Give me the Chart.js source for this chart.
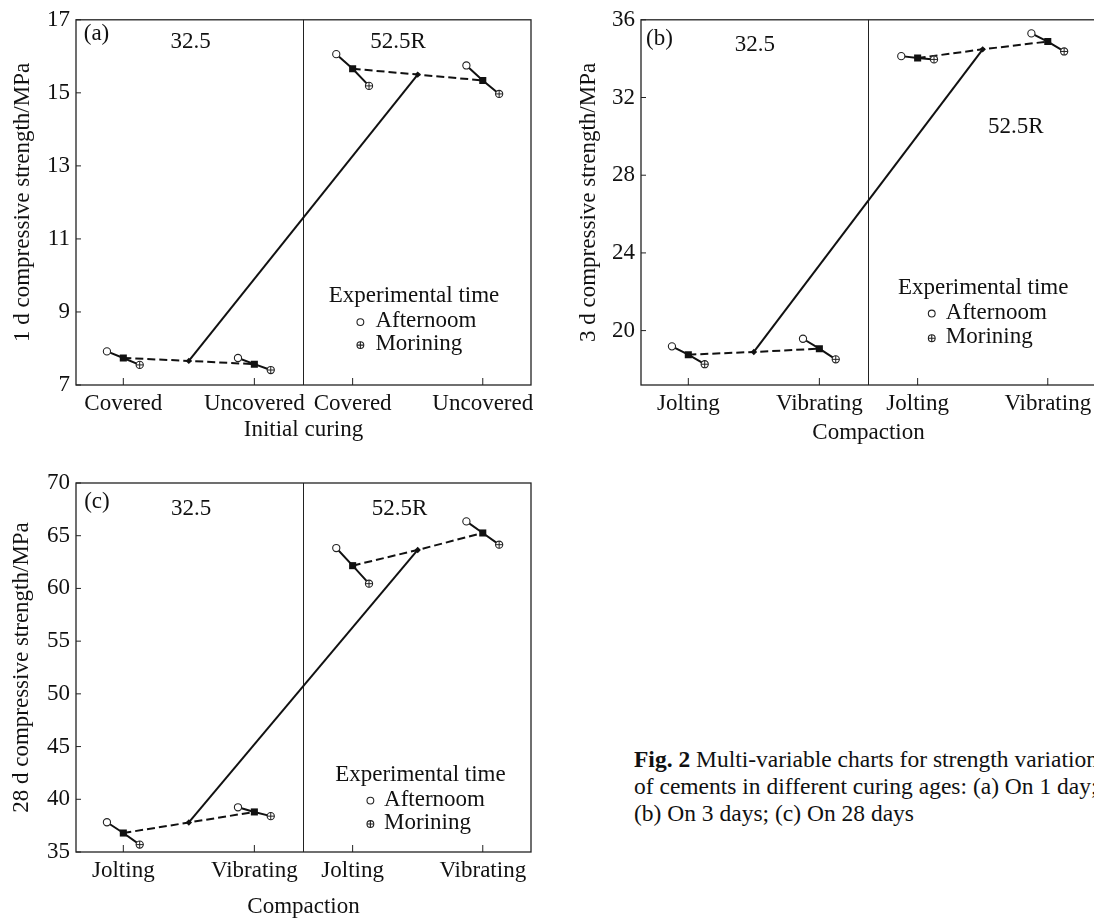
<!DOCTYPE html>
<html>
<head>
<meta charset="utf-8">
<script src="https://cdn.jsdelivr.net/npm/chart.js@4.4.1/dist/chart.umd.min.js"></script>
<style>
  html, body { margin: 0; padding: 0; background: #fff; overflow: hidden; }
  body { width: 1094px; height: 920px; position: relative; }
  canvas { position: absolute; }
  #caption {
    position: absolute; left: 634px; top: 746px;
    font: 23.5px "Liberation Serif", serif; line-height: 27px;
    white-space: nowrap; color: #111;
  }
</style>
</head>
<body>
<canvas id="chartA" width="560" height="450" style="left:0;top:0"></canvas>
<canvas id="chartB" width="560" height="450" style="left:560px;top:0"></canvas>
<canvas id="chartC" width="560" height="470" style="left:0;top:450px"></canvas>
<div id="caption"><b>Fig. 2</b> Multi-variable charts for strength variations<br>of cements in different curing ages: (a) On 1 day;<br>(b) On 3 days; (c) On 28 days</div>

<script>
// data
const curingLevels = ['Covered', 'Uncovered', 'Covered', 'Uncovered'];
const compactionLevels = ['Jolting', 'Vibrating', 'Jolting', 'Vibrating'];
const cementTypes = ['32.5', '52.5R'];

// (a) 1 d strength, MPa
const afternoonA = [7.92, 7.74, 16.06, 15.75];
const morningA = [7.55, 7.41, 15.19, 14.97];
const levelMeanA = [7.74, 7.57, 15.66, 15.34];
const cementMeanA = [7.66, 15.50];
const yTicksA = [7, 9, 11, 13, 15, 17];

// (b) 3 d strength, MPa
const afternoonB = [19.19, 19.58, 34.13, 35.30];
const morningB = [18.27, 18.52, 33.96, 34.37];
const levelMeanB = [18.76, 19.07, 34.03, 34.88];
const cementMeanB = [18.90, 34.48];
const yTicksB = [20, 24, 28, 32, 36];

// (c) 28 d strength, MPa
const afternoonC = [37.82, 39.24, 63.83, 66.36];
const morningC = [35.70, 38.40, 60.45, 64.15];
const levelMeanC = [36.80, 38.80, 62.16, 65.26];
const cementMeanC = [37.80, 63.65];
const yTicksC = [35, 40, 45, 50, 55, 60, 65, 70];

// layout along the x axis (0..1 across the plot)
const tickPos = [0.104, 0.392, 0.608, 0.894];
const markOffset = 0.036;
const groupPos = [(tickPos[0] + tickPos[1]) / 2, (tickPos[2] + tickPos[3]) / 2];

const FONT = '"Liberation Serif", serif';
const INK = '#111';
Chart.defaults.font.family = FONT;
Chart.defaults.font.size = 23;
Chart.defaults.color = INK;

function pairSegments(afternoon, levelMean, morning) {
    const pts = [];
    afternoon.forEach((a, i) => {
        pts.push({ x: tickPos[i] - markOffset, y: a });
        pts.push({ x: tickPos[i], y: levelMean[i] });
        pts.push({ x: tickPos[i] + markOffset, y: morning[i] });
        pts.push({ x: tickPos[i] + markOffset, y: null });
    });
    return pts;
}

function dashedSegments(levelMean, cementMean) {
    return [
        { x: tickPos[0], y: levelMean[0] },
        { x: groupPos[0], y: cementMean[0] },
        { x: tickPos[1], y: levelMean[1] },
        { x: tickPos[1], y: null },
        { x: tickPos[2], y: levelMean[2] },
        { x: groupPos[1], y: cementMean[1] },
        { x: tickPos[3], y: levelMean[3] }
    ];
}

// frame, divider, inner ticks, labels and the small legend
const decorPlugin = {
    id: 'decor',
    beforeDatasetsDraw(chart) {
        const { ctx, chartArea: a, scales: { x, y } } = chart;
        const cfg = chart.options.plugins.decor;
        ctx.save();
        ctx.strokeStyle = '#222';
        ctx.lineWidth = 1.3;
        ctx.strokeRect(a.left, a.top, a.right - a.left, a.bottom - a.top);
        const xd = x.getPixelForValue(0.5);
        ctx.lineWidth = 1;
        ctx.beginPath();
        ctx.moveTo(xd, a.top);
        ctx.lineTo(xd, a.bottom);
        tickPos.forEach(v => {
            const px = x.getPixelForValue(v);
            ctx.moveTo(px, a.bottom);
            ctx.lineTo(px, a.bottom - 7);
        });
        cfg.yTicks.forEach(v => {
            const py = y.getPixelForValue(v);
            ctx.moveTo(a.left, py);
            ctx.lineTo(a.left + 5, py);
        });
        ctx.stroke();
        ctx.restore();
    },
    afterDatasetsDraw(chart) {
        const { ctx, scales: { x, y } } = chart;
        const cfg = chart.options.plugins.decor;
        ctx.save();
        ctx.fillStyle = INK;
        ctx.font = '23px ' + FONT;
        ctx.textBaseline = 'middle';
        cfg.texts.forEach(t => {
            ctx.textAlign = t.align || 'center';
            ctx.fillText(t.text, x.getPixelForValue(t.x), y.getPixelForValue(t.y));
        });
        const lg = cfg.legend;
        ctx.textAlign = 'center';
        ctx.fillText('Experimental time', x.getPixelForValue(lg.titleX), y.getPixelForValue(lg.titleY));
        ctx.textAlign = 'left';
        const mx = x.getPixelForValue(lg.markerX);
        const tx = x.getPixelForValue(lg.textX);
        ['Afternoom', 'Morining'].forEach((name, i) => {
            const py = y.getPixelForValue(lg.rowY[i]);
            ctx.fillText(name, tx, py);
            ctx.beginPath();
            ctx.arc(mx, py + 1, 3.4, 0, Math.PI * 2);
            ctx.fillStyle = '#fff';
            ctx.fill();
            ctx.strokeStyle = '#222';
            ctx.lineWidth = 1.1;
            ctx.stroke();
            if (i === 1) {
                ctx.beginPath();
                ctx.moveTo(mx - 3.4, py + 1);
                ctx.lineTo(mx + 3.4, py + 1);
                ctx.moveTo(mx, py - 2.4);
                ctx.lineTo(mx, py + 4.4);
                ctx.stroke();
            }
            ctx.fillStyle = INK;
        });
        ctx.restore();
    }
};

function makePanel(id, p) {
    const afternoonPts = p.afternoon.map((v, i) => ({ x: tickPos[i] - markOffset, y: v }));
    const morningPts = p.morning.map((v, i) => ({ x: tickPos[i] + markOffset, y: v }));
    const meanPts = p.levelMean.map((v, i) => ({ x: tickPos[i], y: v }));
    const cementPts = p.cementMean.map((v, i) => ({ x: groupPos[i], y: v }));
    const hollow = { showLine: false, pointStyle: 'circle', pointRadius: 3.6,
        backgroundColor: '#fff', borderColor: '#222', borderWidth: 1.1 };

    new Chart(document.getElementById(id), {
        type: 'scatter',
        data: {
            datasets: [
                { label: 'Morining cross', data: morningPts, showLine: false, pointStyle: 'cross',
                  pointRadius: 3.6, borderColor: '#222', borderWidth: 1 },
                Object.assign({ label: 'Morining', data: morningPts }, hollow),
                Object.assign({ label: 'Afternoom', data: afternoonPts }, hollow),
                { label: 'Level mean', data: meanPts, showLine: false, pointStyle: 'rect',
                  pointRadius: 5, backgroundColor: '#111', borderColor: '#111', borderWidth: 0 },
                { label: 'Cement mean', data: cementPts, showLine: false, pointStyle: 'rectRot',
                  pointRadius: 3.2, backgroundColor: '#111', borderColor: '#111', borderWidth: 0 },
                { label: 'Time pairs', data: pairSegments(p.afternoon, p.levelMean, p.morning),
                  showLine: true, pointRadius: 0, borderColor: '#111', borderWidth: 2, spanGaps: false },
                { label: 'Level trend', data: dashedSegments(p.levelMean, p.cementMean),
                  showLine: true, pointRadius: 0, borderColor: '#111', borderWidth: 2,
                  borderDash: [8, 4], spanGaps: false },
                { label: 'Cement trend', data: cementPts, showLine: true, pointRadius: 0,
                  borderColor: '#111', borderWidth: 2 }
            ]
        },
        options: {
            responsive: false,
            animation: false,
            events: [],
            layout: { padding: { left: 0, top: p.padTop, right: p.padRight, bottom: 0 } },
            plugins: {
                legend: { display: false },
                tooltip: { enabled: false },
                decor: { yTicks: p.yTicks, texts: p.texts, legend: p.legend }
            },
            scales: {
                x: {
                    type: 'linear', min: 0, max: 1,
                    grid: { display: false, drawTicks: false },
                    border: { display: false },
                    afterBuildTicks: s => { s.ticks = tickPos.map(v => ({ value: v })); },
                    ticks: { autoSkip: false, maxRotation: 0, padding: 5,
                             callback: (v, i) => p.categories[i] },
                    title: { display: true, text: p.xTitle, color: INK,
                             font: { size: 23, lineHeight: 1.1 },
                             padding: { top: 0, bottom: p.xTitlePad } },
                    afterFit: s => { s.height = p.xAxisHeight; }
                },
                y: {
                    type: 'linear', min: p.yMin, max: p.yMax,
                    grid: { display: false, drawTicks: false },
                    border: { display: false },
                    afterBuildTicks: s => { s.ticks = p.yTicks.map(v => ({ value: v })); },
                    ticks: { padding: 6 },
                    title: { display: true, text: p.yTitle, color: INK,
                             font: { size: 23, lineHeight: 1.1 },
                             padding: { top: p.yTitlePad, bottom: 0 } },
                    afterFit: s => { s.width = p.yAxisWidth; }
                }
            }
        },
        plugins: [decorPlugin]
    });
}

makePanel('chartA', {
    categories: curingLevels,
    afternoon: afternoonA, morning: morningA, levelMean: levelMeanA, cementMean: cementMeanA,
    yTicks: yTicksA, yMin: 7, yMax: 17,
    xTitle: 'Initial curing', yTitle: '1 d compressive strength/MPa',
    padTop: 19, padRight: 29, yAxisWidth: 76, xAxisHeight: 65, xTitlePad: 7, yTitlePad: 10,
    texts: [
        { text: '(a)', x: 0.017, y: 16.6, align: 'left' },
        { text: cementTypes[0], x: 0.252, y: 16.38 },
        { text: cementTypes[1], x: 0.708, y: 16.38 }
    ],
    legend: { titleX: 0.743, titleY: 9.45, markerX: 0.625, textX: 0.658, rowY: [8.75, 8.12] }
});

makePanel('chartB', {
    categories: compactionLevels,
    afternoon: afternoonB, morning: morningB, levelMean: levelMeanB, cementMean: cementMeanB,
    yTicks: yTicksB, yMin: 17.2, yMax: 36,
    xTitle: 'Compaction', yTitle: '3 d compressive strength/MPa',
    padTop: 17, padRight: 24, yAxisWidth: 81, xAxisHeight: 65, xTitlePad: 4, yTitlePad: 16,
    texts: [
        { text: '(b)', x: 0.011, y: 35.02, align: 'left' },
        { text: cementTypes[0], x: 0.25, y: 34.68 },
        { text: cementTypes[1], x: 0.824, y: 30.47 }
    ],
    legend: { titleX: 0.752, titleY: 22.2, markerX: 0.639, textX: 0.67, rowY: [20.93, 19.66] }
});

makePanel('chartC', {
    categories: compactionLevels,
    afternoon: afternoonC, morning: morningC, levelMean: levelMeanC, cementMean: cementMeanC,
    yTicks: yTicksC, yMin: 35, yMax: 70,
    xTitle: 'Compaction', yTitle: '28 d compressive strength/MPa',
    padTop: 33, padRight: 29, yAxisWidth: 76, xAxisHeight: 68, xTitlePad: 0, yTitlePad: 9,
    texts: [
        { text: '(c)', x: 0.018, y: 68.17, align: 'left' },
        { text: cementTypes[0], x: 0.253, y: 67.53 },
        { text: cementTypes[1], x: 0.711, y: 67.53 }
    ],
    legend: { titleX: 0.757, titleY: 42.33, markerX: 0.647, textX: 0.677, rowY: [39.97, 37.75] }
});
</script>
</body>
</html>
